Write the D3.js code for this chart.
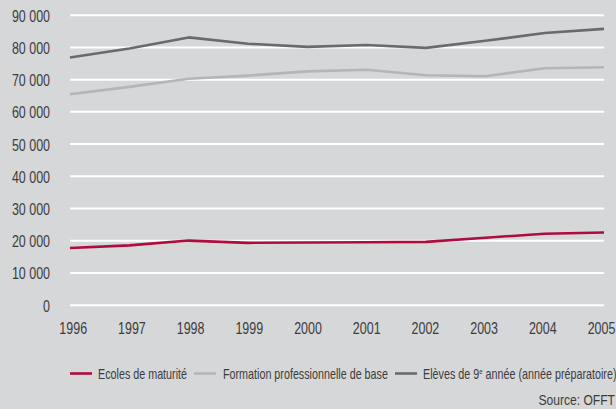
<!DOCTYPE html>
<html>
<head>
    <script src="https://cdnjs.cloudflare.com/ajax/libs/d3/7.8.5/d3.min.js"></script>
    <style>
        body { margin: 0; background-color: #d6d7d9; }
        svg { display: block; }
        text {
            font-family: "Liberation Sans", Arial, sans-serif;
            fill: #3c3c3c;
        }
    </style>
</head>
<body>
    <div id="chart"></div>
    <script>
        const years = [1996, 1997, 1998, 1999, 2000, 2001, 2002, 2003, 2004, 2005];
        const maturite = [17600, 18400, 19900, 19200, 19300, 19400, 19500, 20800, 22000, 22400];
        const formation = [65300, 67600, 70100, 71100, 72400, 72900, 71200, 70900, 73400, 73700];
        const eleves = [76700, 79500, 82950, 81000, 80000, 80600, 79700, 81900, 84300, 85600];
        const yTicks = [0, 10000, 20000, 30000, 40000, 50000, 60000, 70000, 80000, 90000];

        const series = [
            { name: "Ecoles de maturité", values: maturite, color: "#ae0c3e" },
            { name: "Formation professionnelle de base", values: formation, color: "#b4b5b7" },
            { name: "Elèves de 9", sup: "e", rest: " année (année préparatoire)", values: eleves, color: "#696a6d" }
        ];

        const width = 616, height = 409;
        const sx = 0.78; // condensed look: squeeze text horizontally

        const svg = d3.select("#chart").append("svg")
            .attr("width", width)
            .attr("height", height);

        const x = d3.scaleLinear().domain([1996, 2005]).range([70, 604]);
        const xLabel = d3.scaleLinear().domain([1996, 2005]).range([72.7, 601]);
        const y = d3.scaleLinear().domain([0, 90000]).range([304.7, 14.7]);

        const fmt = d3.formatLocale({ decimal: ".", thousands: " ", grouping: [3], currency: ["", ""] }).format(",");

        // grid + y labels
        const yAxis = svg.append("g")
            .attr("transform", "translate(70,0)")
            .call(d3.axisLeft(y).tickValues(yTicks).tickFormat(fmt).tickSize(-534).tickPadding(20));
        yAxis.select(".domain").remove();
        yAxis.selectAll(".tick line").attr("stroke", "#ffffff").attr("stroke-width", 2);
        yAxis.selectAll(".tick text")
            .attr("font-size", 16)
            .attr("fill", "#3c3c3c")
            .attr("dy", "0.4em")
            .attr("x", -20 / sx)
            .attr("transform", `scale(${sx},1)`);

        // x labels
        const xAxis = svg.append("g")
            .attr("transform", "translate(0,304.7)")
            .call(d3.axisBottom(xLabel).tickValues(years).tickFormat(d3.format("d")).tickSize(0).tickPadding(18));
        xAxis.select(".domain").remove();
        xAxis.selectAll(".tick text")
            .attr("font-size", 16)
            .attr("fill", "#3c3c3c")
            .attr("transform", `scale(${sx},1)`);

        const line = d3.line()
            .x((d, i) => x(years[i]))
            .y(d => y(d));

        series.forEach(s => {
            svg.append("path")
                .datum(s.values)
                .attr("fill", "none")
                .attr("stroke", s.color)
                .attr("stroke-width", 2.6)
                .attr("stroke-linejoin", "round")
                .attr("d", line);
        });

        // legend
        const legend = svg.append("g").attr("class", "legend");
        const legendX = [70, 194, 395];
        const legendTextX = [98, 223, 423];
        series.forEach((s, i) => {
            legend.append("line")
                .attr("x1", legendX[i]).attr("x2", legendX[i] + 22)
                .attr("y1", 373.5).attr("y2", 373.5)
                .attr("stroke", s.color).attr("stroke-width", 2.6);
            const t = legend.append("text")
                .attr("x", legendTextX[i] / sx).attr("y", 379.5)
                .attr("transform", `scale(${sx},1)`)
                .attr("font-size", 13.8);
            t.append("tspan").text(s.name);
            if (s.sup) {
                t.append("tspan").attr("font-size", 8).attr("dy", -5).text(s.sup);
                t.append("tspan").attr("dy", 5).text(s.rest);
            }
        });

        svg.append("text")
            .attr("x", 615 / sx).attr("y", 405)
            .attr("transform", `scale(${sx},1)`)
            .attr("text-anchor", "end")
            .attr("font-size", 15.5)
            .text("Source: OFFT");
    </script>
</body>
</html>
